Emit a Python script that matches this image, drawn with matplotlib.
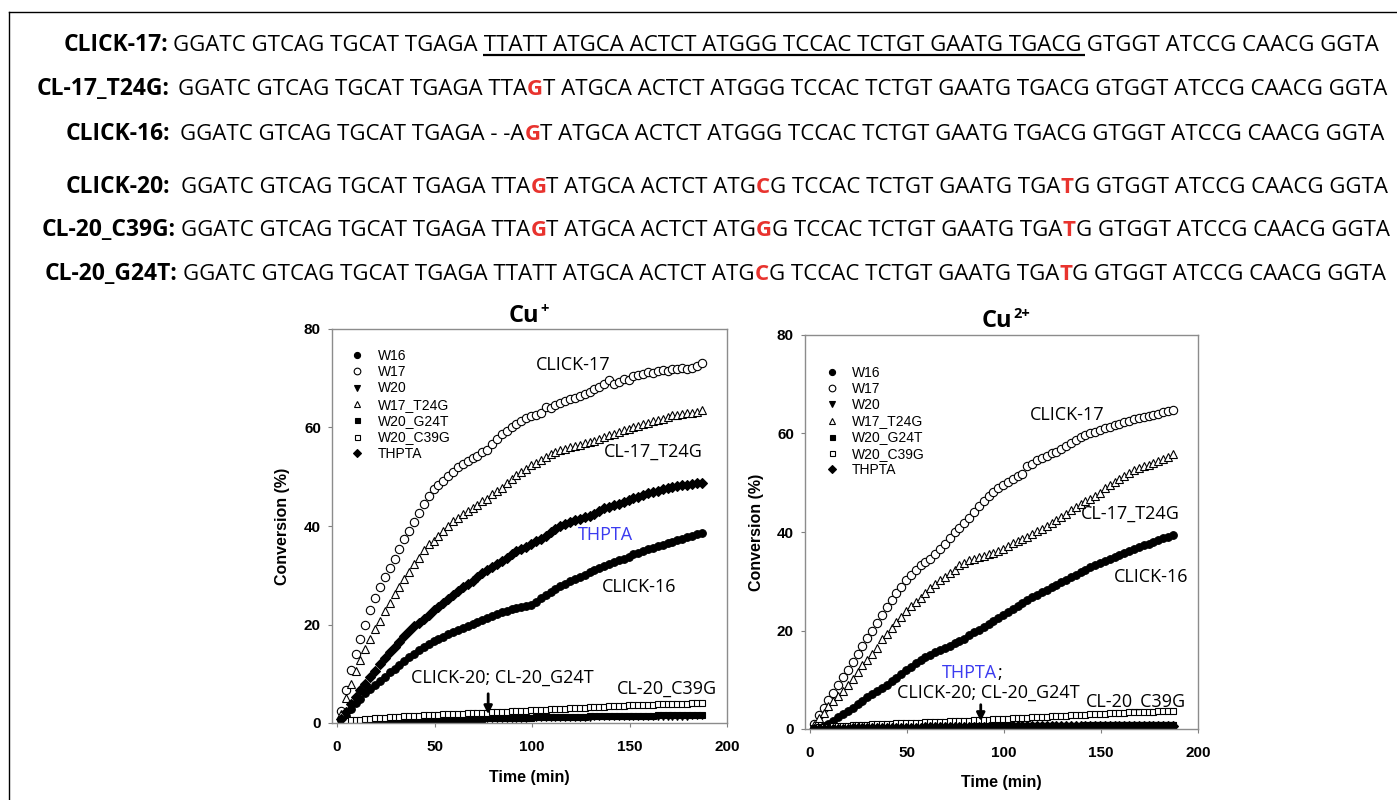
import numpy as np
import matplotlib
matplotlib.use("Agg")
import matplotlib.pyplot as plt
from matplotlib.lines import Line2D

# sampling times (min) - one reading every 2.5 min
time_min = np.arange(2, 188, 2.5)

series_names = ["W16", "W17", "W20", "W17_T24G", "W20_G24T", "W20_C39G", "THPTA"]

# ---- Cu+ panel (conversion %) ----
cu1_w16 = [0.6, 1.5, 2.8, 4.0, 4.9, 6.0, 6.9, 7.8, 8.6, 9.4,
           10.3, 11.0, 11.8, 12.6, 13.3, 14.0, 14.8, 15.4, 16.0, 16.6,
           17.0, 17.5, 18.0, 18.5, 18.9, 19.3, 19.7, 20.1, 20.5, 20.9,
           21.3, 21.7, 22.1, 22.5, 22.8, 23.1, 23.4, 23.6, 23.8, 23.9,
           24.5, 25.3, 26.0, 26.6, 27.2, 27.8, 28.3, 28.8, 29.2, 29.6,
           30.1, 30.6, 31.0, 31.4, 31.8, 32.2, 32.6, 33.0, 33.4, 33.8,
           34.3, 34.6, 35.0, 35.3, 35.6, 35.9, 36.2, 36.5, 36.8, 37.1,
           37.4, 37.8, 38.0, 38.3, 38.6]
cu1_w17 = [2.5, 6.6, 10.7, 14.0, 17.0, 20.0, 23.0, 25.3, 27.6, 29.6,
           31.5, 33.3, 35.3, 37.3, 39.0, 40.8, 42.6, 44.5, 46.1, 47.6,
           48.4, 49.2, 50.2, 51.0, 52.0, 52.6, 53.1, 53.8, 54.2, 55.0,
           55.5, 56.7, 57.6, 58.6, 59.3, 60.2, 60.8, 61.4, 62.0, 62.3,
           62.5, 62.9, 64.2, 64.0, 64.6, 65.0, 65.4, 65.8, 66.0, 66.4,
           66.8, 67.2, 67.9, 68.3, 68.8, 69.6, 68.9, 69.2, 69.8, 69.7,
           70.4, 70.6, 70.8, 71.2, 71.0, 71.4, 71.6, 71.4, 71.8, 71.9,
           72.0, 71.8, 72.1, 72.4, 73.0]
cu1_w20 = [0.1, 0.1, 0.1, 0.2, 0.2, 0.2, 0.2, 0.3, 0.3, 0.3,
           0.3, 0.4, 0.4, 0.4, 0.4, 0.5, 0.5, 0.5, 0.5, 0.6,
           0.6, 0.6, 0.6, 0.6, 0.7, 0.7, 0.7, 0.7, 0.7, 0.8,
           0.8, 0.8, 0.8, 0.8, 0.9, 0.9, 0.9, 0.9, 0.9, 1.0,
           1.0, 1.0, 1.0, 1.0, 1.0, 1.1, 1.1, 1.1, 1.1, 1.1,
           1.1, 1.1, 1.2, 1.2, 1.2, 1.2, 1.2, 1.2, 1.2, 1.2,
           1.3, 1.3, 1.3, 1.3, 1.3, 1.3, 1.3, 1.3, 1.3, 1.3,
           1.3, 1.3, 1.4, 1.4, 1.4]
cu1_w17_t24g = [1.9, 5.0, 8.0, 10.5, 12.8, 15.0, 17.0, 19.0, 20.8, 22.7,
                24.3, 26.1, 27.6, 29.3, 30.6, 32.2, 33.5, 35.1, 36.3, 37.0,
                38.0, 38.9, 39.9, 41.0, 41.6, 42.4, 43.0, 43.7, 44.3, 45.0,
                45.5, 46.4, 47.2, 47.8, 48.8, 49.6, 50.4, 51.0, 51.6, 52.3,
                52.8, 53.3, 54.0, 54.6, 55.0, 55.4, 55.7, 56.0, 56.2, 56.4,
                56.8, 57.0, 57.2, 57.6, 58.0, 58.4, 58.6, 59.0, 59.4, 59.6,
                60.2, 60.4, 60.8, 61.0, 61.4, 61.6, 61.8, 62.2, 62.6, 62.5,
                62.8, 63.0, 63.0, 63.2, 63.5]
cu1_w20_g24t = [0.2, 0.2, 0.2, 0.3, 0.3, 0.3, 0.3, 0.4, 0.4, 0.4,
                0.4, 0.5, 0.5, 0.5, 0.6, 0.6, 0.6, 0.6, 0.7, 0.7,
                0.7, 0.7, 0.8, 0.8, 0.8, 0.8, 0.9, 0.9, 0.9, 0.9,
                1.0, 1.0, 1.0, 1.0, 1.0, 1.1, 1.1, 1.1, 1.1, 1.1,
                1.2, 1.2, 1.2, 1.2, 1.2, 1.3, 1.3, 1.3, 1.3, 1.3,
                1.3, 1.4, 1.4, 1.4, 1.4, 1.4, 1.4, 1.5, 1.5, 1.5,
                1.5, 1.5, 1.5, 1.5, 1.5, 1.6, 1.6, 1.6, 1.6, 1.6,
                1.6, 1.6, 1.6, 1.7, 1.7]
cu1_w20_c39g = [0.4, 0.5, 0.6, 0.7, 0.7, 0.8, 0.9, 1.0, 1.0, 1.1,
                1.2, 1.2, 1.3, 1.4, 1.4, 1.5, 1.5, 1.6, 1.6, 1.7,
                1.7, 1.8, 1.8, 1.8, 1.9, 1.9, 2.0, 2.0, 2.0, 2.1,
                2.1, 2.2, 2.2, 2.3, 2.3, 2.4, 2.4, 2.5, 2.5, 2.6,
                2.6, 2.7, 2.7, 2.8, 2.8, 2.9, 2.9, 3.0, 3.0, 3.1,
                3.1, 3.2, 3.2, 3.3, 3.3, 3.4, 3.4, 3.5, 3.5, 3.6,
                3.6, 3.6, 3.7, 3.7, 3.7, 3.8, 3.8, 3.8, 3.9, 3.9,
                3.9, 3.9, 4.0, 4.0, 4.0]
cu1_thpta = [0.8, 2.3, 3.9, 5.3, 6.6, 8.0, 9.4, 10.6, 12.0, 13.2,
             14.4, 15.5, 16.5, 17.6, 18.6, 19.6, 20.4, 21.2, 22.0, 22.9,
             23.6, 24.4, 25.2, 26.0, 26.8, 27.6, 28.2, 28.9, 29.6, 30.4,
             31.0, 31.6, 32.3, 32.9, 33.6, 34.3, 34.9, 35.4, 35.8, 36.3,
             36.9, 37.4, 38.0, 38.7, 39.4, 40.0, 40.5, 40.9, 41.2, 41.5,
             41.8, 42.0, 42.5, 43.0, 43.6, 43.9, 44.2, 44.5, 44.9, 45.3,
             45.6, 45.9, 46.3, 46.6, 46.9, 47.2, 47.6, 47.8, 48.0, 48.2,
             48.3, 48.4, 48.6, 48.7, 48.8]

# ---- Cu2+ panel (conversion %) ----
cu2_w16 = [0.2, 0.3, 0.6, 1.0, 1.6, 2.4, 3.0, 3.6, 4.3, 5.0,
           5.7, 6.4, 7.1, 7.8, 8.4, 9.0, 9.7, 10.4, 11.1, 11.9,
           12.6, 13.3, 14.0, 14.6, 15.1, 15.6, 16.1, 16.5, 16.9, 17.4,
           17.8, 18.3, 19.0, 19.6, 20.2, 20.8, 21.4, 22.0, 22.6, 23.2,
           23.8, 24.4, 25.0, 25.6, 26.2, 26.8, 27.3, 27.8, 28.3, 28.8,
           29.3, 29.8, 30.3, 30.8, 31.3, 31.8, 32.3, 32.8, 33.3, 33.7,
           34.2, 34.6, 35.0, 35.4, 35.8, 36.2, 36.6, 37.0, 37.3, 37.6,
           38.0, 38.3, 38.7, 39.0, 39.4]
cu2_w17 = [1.0, 2.8, 4.2, 5.9, 7.3, 9.0, 10.5, 12.0, 13.6, 15.2,
           16.9, 18.5, 20.0, 21.6, 23.1, 24.8, 26.2, 27.6, 28.9, 30.2,
           31.3, 32.3, 33.2, 34.0, 34.6, 35.5, 36.5, 37.5, 38.8, 40.0,
           40.8, 41.8, 42.8, 44.1, 45.2, 46.3, 47.3, 48.2, 48.9, 49.6,
           50.2, 50.8, 51.4, 51.8, 53.4, 53.9, 54.6, 55.0, 55.5, 56.0,
           56.3, 56.8, 57.5, 58.1, 58.6, 59.2, 59.6, 60.1, 60.4, 60.8,
           61.1, 61.4, 61.7, 62.0, 62.3, 62.6, 62.9, 63.2, 63.4, 63.6,
           63.8, 64.0, 64.3, 64.5, 64.8]
cu2_w20 = [0.1, 0.1, 0.1, 0.1, 0.2, 0.2, 0.2, 0.2, 0.2, 0.2,
           0.3, 0.3, 0.3, 0.3, 0.3, 0.3, 0.3, 0.4, 0.4, 0.4,
           0.4, 0.4, 0.4, 0.4, 0.4, 0.5, 0.5, 0.5, 0.5, 0.5,
           0.5, 0.5, 0.5, 0.5, 0.6, 0.6, 0.6, 0.6, 0.6, 0.6,
           0.6, 0.6, 0.6, 0.6, 0.7, 0.7, 0.7, 0.7, 0.7, 0.7,
           0.7, 0.7, 0.7, 0.7, 0.7, 0.7, 0.8, 0.8, 0.8, 0.8,
           0.8, 0.8, 0.8, 0.8, 0.8, 0.8, 0.8, 0.8, 0.8, 0.8,
           0.8, 0.8, 0.9, 0.9, 0.9]
cu2_w17_t24g = [0.8, 2.2, 3.3, 4.6, 5.6, 6.8, 7.8, 9.0, 10.2, 11.5,
                13.0, 14.0, 15.2, 16.5, 18.2, 19.3, 20.6, 21.7, 22.7, 23.9,
                24.9, 25.8, 26.7, 27.6, 28.6, 29.5, 30.3, 30.9, 31.6, 32.3,
                33.3, 33.8, 34.3, 34.6, 34.9, 35.2, 35.5, 35.8, 36.1, 36.6,
                37.1, 37.8, 38.2, 38.6, 39.0, 39.6, 40.2, 40.7, 41.2, 41.8,
                42.4, 43.0, 43.7, 44.4, 45.0, 45.6, 46.2, 46.8, 47.4, 48.0,
                48.9, 49.5, 50.1, 50.7, 51.4, 52.0, 52.6, 53.0, 53.3, 53.7,
                54.0, 54.4, 54.8, 55.3, 55.8]
cu2_w20_g24t = [0.1, 0.1, 0.1, 0.1, 0.1, 0.2, 0.2, 0.2, 0.2, 0.2,
                0.2, 0.3, 0.3, 0.3, 0.3, 0.3, 0.3, 0.3, 0.4, 0.4,
                0.4, 0.4, 0.4, 0.4, 0.4, 0.4, 0.5, 0.5, 0.5, 0.5,
                0.5, 0.5, 0.5, 0.5, 0.5, 0.6, 0.6, 0.6, 0.6, 0.6,
                0.6, 0.6, 0.6, 0.6, 0.6, 0.6, 0.7, 0.7, 0.7, 0.7,
                0.7, 0.7, 0.7, 0.7, 0.7, 0.7, 0.7, 0.7, 0.8, 0.8,
                0.8, 0.8, 0.8, 0.8, 0.8, 0.8, 0.8, 0.8, 0.8, 0.8,
                0.8, 0.8, 0.8, 0.8, 0.8]
cu2_w20_c39g = [0.3, 0.4, 0.5, 0.5, 0.6, 0.6, 0.7, 0.7, 0.8, 0.8,
                0.9, 0.9, 1.0, 1.0, 1.0, 1.1, 1.1, 1.2, 1.2, 1.2,
                1.3, 1.3, 1.3, 1.4, 1.4, 1.5, 1.5, 1.5, 1.6, 1.6,
                1.7, 1.7, 1.7, 1.8, 1.8, 1.9, 1.9, 2.0, 2.0, 2.1,
                2.1, 2.2, 2.2, 2.3, 2.3, 2.4, 2.4, 2.5, 2.5, 2.6,
                2.6, 2.7, 2.7, 2.8, 2.8, 2.9, 2.9, 3.0, 3.0, 3.1,
                3.1, 3.2, 3.2, 3.3, 3.3, 3.4, 3.4, 3.4, 3.5, 3.5,
                3.5, 3.6, 3.6, 3.6, 3.7]
cu2_thpta = [0.0, 0.0, 0.1, 0.1, 0.1, 0.1, 0.1, 0.1, 0.2, 0.2,
             0.2, 0.2, 0.2, 0.2, 0.2, 0.3, 0.3, 0.3, 0.3, 0.3,
             0.3, 0.3, 0.3, 0.4, 0.4, 0.4, 0.4, 0.4, 0.4, 0.4,
             0.4, 0.5, 0.5, 0.5, 0.5, 0.5, 0.5, 0.5, 0.5, 0.5,
             0.5, 0.6, 0.6, 0.6, 0.6, 0.6, 0.6, 0.6, 0.6, 0.6,
             0.6, 0.6, 0.6, 0.7, 0.7, 0.7, 0.7, 0.7, 0.7, 0.7,
             0.7, 0.7, 0.7, 0.7, 0.7, 0.7, 0.7, 0.7, 0.7, 0.7,
             0.7, 0.7, 0.7, 0.7, 0.7]

cu1_data = [cu1_w16, cu1_w17, cu1_w20, cu1_w17_t24g, cu1_w20_g24t, cu1_w20_c39g, cu1_thpta]
cu2_data = [cu2_w16, cu2_w17, cu2_w20, cu2_w17_t24g, cu2_w20_g24t, cu2_w20_c39g, cu2_thpta]

# sequence rows: (text, kind) with kind 0 = plain, 1 = red mutation, 2 = underlined
row_labels = ["CLICK-17:", "CL-17_T24G:", "CLICK-16:", "CLICK-20:", "CL-20_C39G:", "CL-20_G24T:"]
row_segments = [
    [("GGATC GTCAG TGCAT TGAGA", 0),
     (" TTATT ATGCA ACTCT ATGGG TCCAC TCTGT GAATG TGACG", 2),
     (" GTGGT ATCCG CAACG GGTA", 0)],
    [("GGATC GTCAG TGCAT TGAGA TTA", 0), ("G", 1),
     ("T ATGCA ACTCT ATGGG TCCAC TCTGT GAATG TGACG GTGGT ATCCG CAACG GGTA", 0)],
    [("GGATC GTCAG TGCAT TGAGA - -A", 0), ("G", 1),
     ("T ATGCA ACTCT ATGGG TCCAC TCTGT GAATG TGACG GTGGT ATCCG CAACG GGTA", 0)],
    [("GGATC GTCAG TGCAT TGAGA TTA", 0), ("G", 1), ("T ATGCA ACTCT ATG", 0), ("C", 1),
     ("G TCCAC TCTGT GAATG TGA", 0), ("T", 1), ("G GTGGT ATCCG CAACG GGTA", 0)],
    [("GGATC GTCAG TGCAT TGAGA TTA", 0), ("G", 1), ("T ATGCA ACTCT ATG", 0), ("G", 1),
     ("G TCCAC TCTGT GAATG TGA", 0), ("T", 1), ("G GTGGT ATCCG CAACG GGTA", 0)],
    [("GGATC GTCAG TGCAT TGAGA TTATT ATGCA ACTCT ATG", 0), ("C", 1),
     ("G TCCAC TCTGT GAATG TGA", 0), ("T", 1), ("G GTGGT ATCCG CAACG GGTA", 0)],
]

W, H = 1397, 800
fig = plt.figure(figsize=(W / 100, H / 100), dpi=100)
bg = fig.add_axes([0, 0, 1, 1])
bg.axis("off")
bg.set_xlim(0, W)
bg.set_ylim(H, 0)

# outer frame (only left and top edges show in the original crop)
fig.add_artist(Line2D([9 / W, 9 / W], [0, 1 - 12 / H], color="black", lw=1))
fig.add_artist(Line2D([9 / W, 1], [1 - 12 / H, 1 - 12 / H], color="black", lw=1))

seq_font = "Open Sans"
seq_size = 16
label_size = 16.5
red = "#e8332e"
label_right = [168, 170, 170, 170, 176, 177]
seq_left = [173, 178, 180, 181, 181, 183]
baselines = [51, 95, 140, 193, 236, 280]

seg_artists = []
for i in range(len(row_labels)):
    bg.text(label_right[i], baselines[i], row_labels[i], ha="right", va="baseline",
            fontsize=label_size, family=seq_font, weight="bold")
    prev = None
    arts = []
    for text, kind in row_segments[i]:
        color = red if kind == 1 else "black"
        weight = "bold" if kind == 1 else "normal"
        if prev is None:
            t = bg.text(seq_left[i], baselines[i], text, ha="left", va="baseline",
                        fontsize=seq_size, family=seq_font, color=color, weight=weight)
        else:
            t = bg.annotate(text, xy=(1, 0), xycoords=prev, va="bottom", ha="left",
                            fontsize=seq_size, family=seq_font, color=color, weight=weight)
        arts.append((t, kind))
        prev = t
    seg_artists.append(arts)

# panel titles: "Cu" then a raised charge
title_specs = [(509, 322, "+"), (982, 327, "2+")]
title_bases = []
for tx, ty, charge in title_specs:
    base = bg.text(tx, ty, "Cu", ha="left", va="baseline", family="Open Sans",
                   weight="bold", size=17)
    title_bases.append(base)

# underline for the CLICK-17 binding region, and title superscripts
fig.canvas.draw()
renderer = fig.canvas.get_renderer()
probe1 = bg.text(0, 0, " T", fontsize=seq_size, family=seq_font)
probe2 = bg.text(0, 0, "T", fontsize=seq_size, family=seq_font)
space_w = probe1.get_window_extent(renderer).width - probe2.get_window_extent(renderer).width
probe1.remove()
probe2.remove()
row1 = seg_artists[0]
ul_box = row1[1][0].get_window_extent(renderer)
next_box = row1[2][0].get_window_extent(renderer)
x_start = ul_box.x0 + space_w
x_end = next_box.x0 + space_w - 2
bg.plot([x_start, x_end], [baselines[0] + 4, baselines[0] + 4], color="black", lw=1.6,
        solid_capstyle="butt")

for (tx, ty, charge), base in zip(title_specs, title_bases):
    cu_w = base.get_window_extent(renderer).width
    bg.text(tx + cu_w + 0.5, ty - 9, charge, ha="left", va="baseline", family="Open Sans",
            weight="bold", size=10.5)

# marker styles for the seven series
styles = {
    "W16": dict(marker="o", ms=5.5, mfc="black"),
    "W17": dict(marker="o", ms=6, mfc="white"),
    "W20": dict(marker="v", ms=5, mfc="black"),
    "W17_T24G": dict(marker="^", ms=5.5, mfc="white"),
    "W20_G24T": dict(marker="s", ms=4.5, mfc="black"),
    "W20_C39G": dict(marker="s", ms=4.5, mfc="white"),
    "THPTA": dict(marker="D", ms=5, mfc="black"),
}

ax1 = fig.add_axes([332 / W, 77 / H, 395 / W, 394 / H])
ax2 = fig.add_axes([805 / W, 71 / H, 393 / W, 394 / H])

tick_font = dict(family="Liberation Sans", weight="bold", size=11)
lab_font = dict(family="Liberation Sans", weight="bold", size=11.5)
note_font = dict(family="Open Sans", size=13)
blue = "#3b3bf0"

for ax, data in [(ax1, cu1_data), (ax2, cu2_data)]:
    for name, vals in zip(series_names, data):
        st = styles[name]
        ax.plot(time_min, vals, linestyle="none", marker=st["marker"], ms=st["ms"],
                mfc=st["mfc"], mec="black", mew=0.8, label=name)
    ax.set_xlim(-2.6, 200)
    ax.set_ylim(0, 80)
    ax.set_xticks([0, 50, 100, 150, 200])
    ax.set_yticks([0, 20, 40, 60, 80])
    for lab in ax.get_xticklabels() + ax.get_yticklabels():
        lab.set_fontproperties(tick_font)
    ax.tick_params(direction="out", length=3, color="#808080", pad=5)
    ax.tick_params(axis="x", pad=9)
    for sp in ax.spines.values():
        sp.set_color("#8c8c8c")
        sp.set_linewidth(1)
    ax.set_xlabel("Time (min)", **lab_font)
    ax.set_ylabel("Conversion (%)", **lab_font)

ax1.yaxis.set_label_coords(-0.106, 0.5)
ax2.yaxis.set_label_coords(-0.104, 0.5)
ax1.xaxis.set_label_coords(0.5, -0.119)
ax2.xaxis.set_label_coords(0.5, -0.117)

legend_props = {"family": "Liberation Sans", "size": 10}
ax1.legend(loc="upper left", bbox_to_anchor=(0.045, 0.95), frameon=False, prop=legend_props,
           handlelength=1, handletextpad=1.0, labelspacing=0.17, borderaxespad=0,
           borderpad=0, markerscale=0.8)
ax2.legend(loc="upper left", bbox_to_anchor=(0.05, 0.921), frameon=False, prop=legend_props,
           handlelength=1, handletextpad=0.95, labelspacing=0.15, borderaxespad=0,
           borderpad=0, markerscale=0.8)

# curve labels, Cu+
ax1.text(121, 72.6, "CLICK-17", ha="center", va="center", **note_font)
ax1.text(162, 55, "CL-17_T24G", ha="center", va="center", **note_font)
ax1.text(137.5, 38.1, "THPTA", ha="center", va="center", color=blue, **note_font)
ax1.text(155, 27.6, "CLICK-16", ha="center", va="center", **note_font)
ax1.text(85, 9.1, "CLICK-20; CL-20_G24T", ha="center", va="center", **note_font)
ax1.text(169, 7, "CL-20_C39G", ha="center", va="center", **note_font)
ax1.annotate("", xy=(77.5, 1.2), xytext=(77.5, 6.5),
             arrowprops=dict(arrowstyle="-|>", color="black", lw=2, mutation_scale=12))

# curve labels, Cu2+
ax2.text(132.5, 63.8, "CLICK-17", ha="center", va="center", **note_font)
ax2.text(165, 43.8, "CL-17_T24G", ha="center", va="center", **note_font)
ax2.text(176, 30.9, "CLICK-16", ha="center", va="center", **note_font)
thp = ax2.text(96.5, 11.4, "THPTA", ha="right", va="center", color=blue, **note_font)
ax2.annotate(";", xy=(1, 0), xycoords=thp, va="bottom", ha="left", **note_font)
ax2.text(92, 7.3, "CLICK-20; CL-20_G24T", ha="center", va="center", **note_font)
ax2.text(168, 5.5, "CL-20_C39G", ha="center", va="center", **note_font)
ax2.annotate("", xy=(88, 1.0), xytext=(88, 5.5),
             arrowprops=dict(arrowstyle="-|>", color="black", lw=2, mutation_scale=12))

fig.savefig("out.png", dpi=100)
